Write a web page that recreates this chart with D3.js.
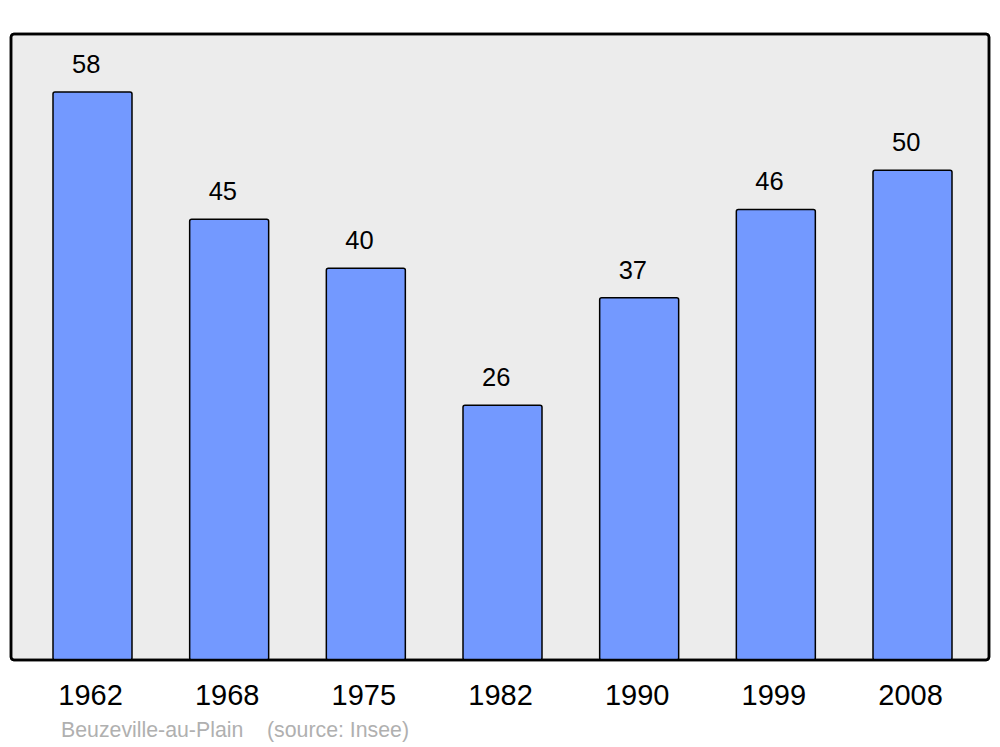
<!DOCTYPE html>
<html><head><meta charset="utf-8">
<script src="https://cdn.jsdelivr.net/npm/d3@7"></script>
<style>body{margin:0;background:#fff}svg{display:block}</style>
</head><body>
<script>
const years = ["1962","1968","1975","1982","1990","1999","2008"];
const population = [58,45,40,26,37,46,50];
const sourceText = "Beuzeville-au-Plain    (source: Insee)";

const W = 1000, H = 747;
const frame = {x0: 11, y0: 34, x1: 989, y1: 660};
const svg = d3.select("body").append("svg").attr("width", W).attr("height", H);

const x = d3.scaleBand().domain(years).range([53, 952]).paddingInner(0.422).paddingOuter(0);
const y = d3.scaleLinear().domain([0, 63.92]).range([frame.y1, frame.y0]);

svg.append("rect")
  .attr("x", frame.x0).attr("y", frame.y0)
  .attr("width", frame.x1 - frame.x0).attr("height", frame.y1 - frame.y0)
  .attr("rx", 3).attr("fill", "#ececec").attr("stroke", "#000").attr("stroke-width", 2.5);

const g = svg.append("g");
g.selectAll("rect.bar").data(population).join("rect").attr("class","bar")
  .attr("x", (d,i) => x(years[i]))
  .attr("y", d => y(d))
  .attr("width", x.bandwidth())
  .attr("height", d => y(0) - y(d))
  .attr("rx", 2)
  .attr("fill", "#7399ff").attr("stroke", "#000").attr("stroke-width", 1.5);

g.selectAll("text.val").data(population).join("text").attr("class","val")
  .attr("x", (d,i) => x(years[i]) + 19)
  .attr("y", d => y(d) - 19)
  .attr("text-anchor", "start")
  .attr("font-family", "Liberation Sans, Arial, sans-serif")
  .attr("font-size", 25.5).attr("fill", "#000")
  .text(d => d);

svg.append("rect")
  .attr("x", frame.x0).attr("y", frame.y0)
  .attr("width", frame.x1 - frame.x0).attr("height", frame.y1 - frame.y0)
  .attr("rx", 3).attr("fill", "none").attr("stroke", "#000").attr("stroke-width", 2.5);

const xAxis = d3.axisBottom(x).tickSize(0).tickPadding(0);
const ax = svg.append("g").attr("transform", `translate(0,705)`).call(xAxis);
ax.select(".domain").remove();
ax.selectAll("text")
  .attr("dy", 0).attr("y", 0).attr("dx", -2)
  .attr("font-family", "Liberation Sans, Arial, sans-serif")
  .attr("font-size", 29).attr("fill", "#000");

svg.append("text")
  .attr("x", 61).attr("y", 737)
  .attr("font-family", "Liberation Sans, Arial, sans-serif")
  .attr("font-size", 21.3).attr("fill", "#b0b0b0")
  .attr("xml:space", "preserve").style("white-space", "pre")
  .text(sourceText);
</script>
</body></html>
